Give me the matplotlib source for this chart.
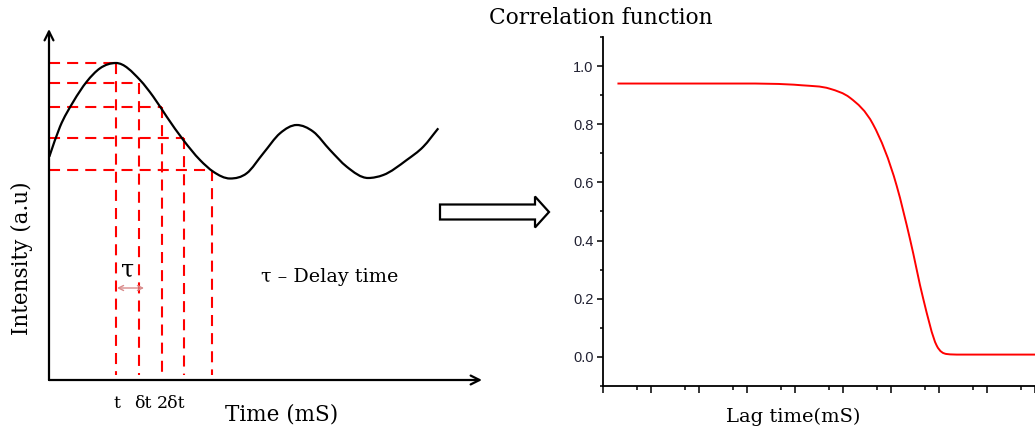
import matplotlib
matplotlib.use('Agg')
import matplotlib.pyplot as plt
import numpy as np
from matplotlib.patches import FancyArrow, PathPatch
from matplotlib.path import Path

# left panel: schematic intensity trace (arbitrary units)
trace_t = [0.03, 1.1, 2.43, 3.77, 5.1, 6.7, 9.1, 10.43, 11.77, 13.43, 15.1,
           16.43, 18.1, 19.77, 21.43, 23.1, 24.77, 26.43, 28.1, 29.77, 31.9,
           33.43, 35.77, 37.43, 38.93]
trace_I = [22.33, 25.33, 27.83, 29.83, 31.17, 31.7, 30.0, 28.33, 26.33, 24.0, 22.0,
           20.83, 20.15, 20.67, 22.67, 24.67, 25.5, 24.83, 23.0, 21.33, 20.2,
           20.5, 22.0, 23.33, 25.17]
sample_t = [6.7, 9.0, 11.3, 13.5, 16.3]
sample_I = [31.7, 29.7, 27.3, 24.2, 21.0]
tick_txt = ['t', 'δt', '2δt']
tick_pos = [6.8, 9.35, 12.2]

# right panel: correlation function vs lag time (log axis)
lag = [2e-4, 0.07, 1.38, 5.36, 14.0, 42.2, 131.5, 248.9, 471, 895, 1445, 2738, 1e5]
g2 = [0.94, 0.94, 0.934, 0.922, 0.891, 0.8, 0.588, 0.405, 0.199, 0.039, 0.010, 0.008, 0.008]


def smooth_path(x, y):
    # cubic bezier pieces through the points (3-point tangents, limited)
    x = np.asarray(x, float)
    y = np.asarray(y, float)
    h = np.diff(x)
    d = np.diff(y) / h
    m = np.zeros_like(x)
    m[0], m[-1] = d[0], d[-1]
    for i in range(1, len(x) - 1):
        if d[i - 1] * d[i] > 0:
            mi = (h[i] * d[i - 1] + h[i - 1] * d[i]) / (h[i - 1] + h[i])
            lim = 3 * min(abs(d[i - 1]), abs(d[i]))
            m[i] = np.sign(mi) * min(abs(mi), lim)
    verts = [(x[0], y[0])]
    codes = [Path.MOVETO]
    for i in range(len(x) - 1):
        verts += [(x[i] + h[i] / 3, y[i] + m[i] * h[i] / 3),
                  (x[i + 1] - h[i] / 3, y[i + 1] - m[i + 1] * h[i] / 3),
                  (x[i + 1], y[i + 1])]
        codes += [Path.CURVE4] * 3
    return np.array(verts), codes


W, H = 1035, 433
fig = plt.figure(figsize=(W / 100, H / 100), dpi=100)
serif = ['DejaVu Serif']

def fx(px):
    return px / W

def fy(py):
    return 1 - py / H

# ---- left schematic
ax = fig.add_axes([fx(39), fy(390), fx(489) - fx(39), fy(20) - fy(390)])
ax.set_xlim(-1, 44)
ax.set_ylim(-1, 36)
ax.axis('off')

v, c = smooth_path(trace_t, trace_I)
ax.add_patch(PathPatch(Path(v, c), fc='none', ec='k', lw=1.6, zorder=3))
dash = (0, (5.3, 3.4))
for t, I in zip(sample_t, sample_I):
    ax.plot([0, t], [I, I], color='red', lw=1.5, ls=dash, zorder=2)
    ax.plot([t, t], [I, 0.5], color='red', lw=1.5, ls=dash, zorder=2)

arr = dict(arrowstyle='->', lw=1.6, color='k', mutation_scale=16, shrinkA=0, shrinkB=0)
ax.annotate('', xy=(43.3, 0), xytext=(0, 0), arrowprops=arr)
ax.annotate('', xy=(0, 35.1), xytext=(0, 0), arrowprops=arr)

for s, p in zip(tick_txt, tick_pos):
    ax.text(p, -2.3, s, ha='center', va='center', family=serif, fontsize=12.5)
ax.text(23.3, -3.5, 'Time (mS)', ha='center', va='center', family=serif, fontsize=15.5)
ax.text(-2.7, 12.2, 'Intensity (a.u)', ha='center', va='center', rotation=90,
        family=serif, fontsize=15.5)
ax.text(7.85, 11.0, 'τ', ha='center', va='center', family=serif, fontsize=17)
ax.annotate('', xy=(9.5, 9.2), xytext=(6.8, 9.2),
            arrowprops=dict(arrowstyle='<->', color='#d98c8c', lw=1.0,
                            shrinkA=0, shrinkB=0, mutation_scale=9))
ax.text(28.1, 10.3, 'τ – Delay time', ha='center', va='center', family=serif, fontsize=13.8)

# ---- block arrow
ov = fig.add_axes([0, 0, 1, 1], zorder=-1)
ov.set_xlim(0, W)
ov.set_ylim(H, 0)
ov.axis('off')
ov.add_patch(FancyArrow(440, 212, 109, 0, width=15, head_width=31, head_length=14,
                        length_includes_head=True, fc='white', ec='black', lw=1.6))

# ---- right correlation plot
ax2 = fig.add_axes([fx(603), fy(386), 1 - fx(603), fy(37) - fy(386)])
ax2.set_xscale('log')
lv, lc = smooth_path(np.log10(lag), g2)
lv[:, 0] = 10 ** lv[:, 0]
ax2.add_patch(PathPatch(Path(lv, lc), fc='none', ec='red', lw=1.4))
ax2.set_xlim(1e-4, 1e5)
ax2.set_ylim(-0.1, 1.1)
for sp in ['top', 'right']:
    ax2.spines[sp].set_visible(False)
for sp in ['left', 'bottom']:
    ax2.spines[sp].set_linewidth(1.3)
ax2.set_yticks(np.arange(0, 1.01, 0.2))
ax2.set_yticks(np.arange(-0.1, 1.11, 0.2), minor=True)
ax2.set_yticklabels(['%.1f' % v for v in np.arange(0, 1.01, 0.2)])
ax2.xaxis.set_major_locator(matplotlib.ticker.LogLocator(base=10, numticks=20))
ax2.xaxis.set_minor_locator(matplotlib.ticker.LogLocator(base=10, subs=[5], numticks=20))
ax2.xaxis.set_major_formatter(matplotlib.ticker.NullFormatter())
ax2.xaxis.set_minor_formatter(matplotlib.ticker.NullFormatter())
ax2.tick_params(axis='y', which='major', length=4.3, width=1.1, pad=2.5,
                labelsize=10.5, labelcolor='#222233', labelfontfamily='Liberation Sans')
ax2.tick_params(axis='y', which='minor', length=2.5, width=1.1)
ax2.tick_params(axis='x', which='major', length=5, width=1.1)
ax2.tick_params(axis='x', which='minor', length=3, width=1.1)

fig.text(fx(489), fy(18), 'Correlation function', ha='left', va='center',
         family=serif, fontsize=15.7)
fig.text(fx(793), fy(417), 'Lag time(mS)', ha='center', va='center',
         family=serif, fontsize=14)

fig.savefig('out.png', dpi=100)
